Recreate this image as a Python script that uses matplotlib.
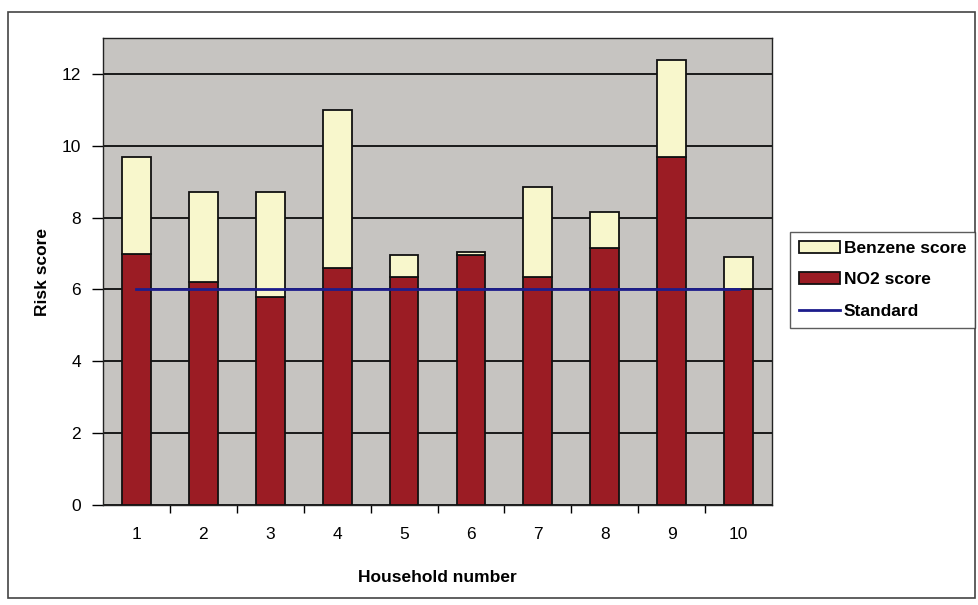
import matplotlib
matplotlib.use("Agg")
import matplotlib.pyplot as plt
import numpy as np
from matplotlib.patches import Rectangle

households = [1, 2, 3, 4, 5, 6, 7, 8, 9, 10]
no2_score = [7.0, 6.2, 5.8, 6.6, 6.35, 6.95, 6.35, 7.15, 9.7, 6.0]
benzene_score = [2.7, 2.5, 2.9, 4.4, 0.6, 0.1, 2.5, 1.0, 2.7, 0.9]
standard = [6, 6, 6, 6, 6, 6, 6, 6, 6, 6]
y_ticks = [0, 2, 4, 6, 8, 10, 12]

plt.rcParams['font.family'] = ['Liberation Sans', 'DejaVu Sans']

fig = plt.figure(figsize=(9.79, 6.05), dpi=100)
fig.patch.set_facecolor('white')
ax = fig.add_axes([103/979, 1-505/605, (772-103)/979, (505-38)/605])
ax.set_facecolor('#c6c4c1')

x = np.array(households)
w = 0.43
ax.bar(x, no2_score, width=w, color='#9b1c24', edgecolor='#111111', linewidth=1.3,
       label='NO2 score', zorder=3)
ax.bar(x, benzene_score, width=w, bottom=no2_score, color='#f8f7cc', edgecolor='#111111',
       linewidth=1.3, label='Benzene score', zorder=3)
ax.plot(x, standard, color='#1c1c8c', linewidth=2, label='Standard', zorder=4)

ax.set_xlim(0.5, 10.5)
ax.set_ylim(0, 13)
ax.set_yticks(y_ticks)
ax.set_xticks(x)
ax.set_xticks(np.arange(1.5, 10.5, 1.0), minor=True)
ax.tick_params(axis='x', which='major', length=0, pad=16, labelsize=12.5)
ax.tick_params(axis='x', which='minor', length=6, width=1, direction='out')
ax.tick_params(axis='y', length=8, width=1, direction='out', pad=8, labelsize=12.5)
ax.yaxis.grid(True, color='#1a1a1a', linewidth=1.4, zorder=1)
ax.set_axisbelow(True)
for s in ax.spines.values():
    s.set_color('#222222')
    s.set_linewidth(1.0)

ax.set_ylabel('Risk score', fontsize=12.5, fontweight='bold', labelpad=8)
ax.set_xlabel('Household number', fontsize=12.5, fontweight='bold', labelpad=20)

handles, labels = ax.get_legend_handles_labels()
order = [labels.index('Benzene score'), labels.index('NO2 score'), labels.index('Standard')]
leg = fig.legend([handles[i] for i in order], [labels[i] for i in order],
                 loc='upper left', bbox_to_anchor=(790/979, 1-232/605),
                 fontsize=12.5, frameon=True, fancybox=False, edgecolor='#333333',
                 handlelength=2.4, handletextpad=0.2, labelspacing=0.95, borderpad=0.5,
                 borderaxespad=0)
leg.get_frame().set_linewidth(1.0)
for t in leg.get_texts():
    t.set_fontweight('bold')

fig.patches.append(Rectangle((8/979, 1-598/605), (975-8)/979, (598-12)/605,
                             transform=fig.transFigure, fill=False,
                             edgecolor='#444444', linewidth=1.2))

fig.savefig('out.png', dpi=100)
